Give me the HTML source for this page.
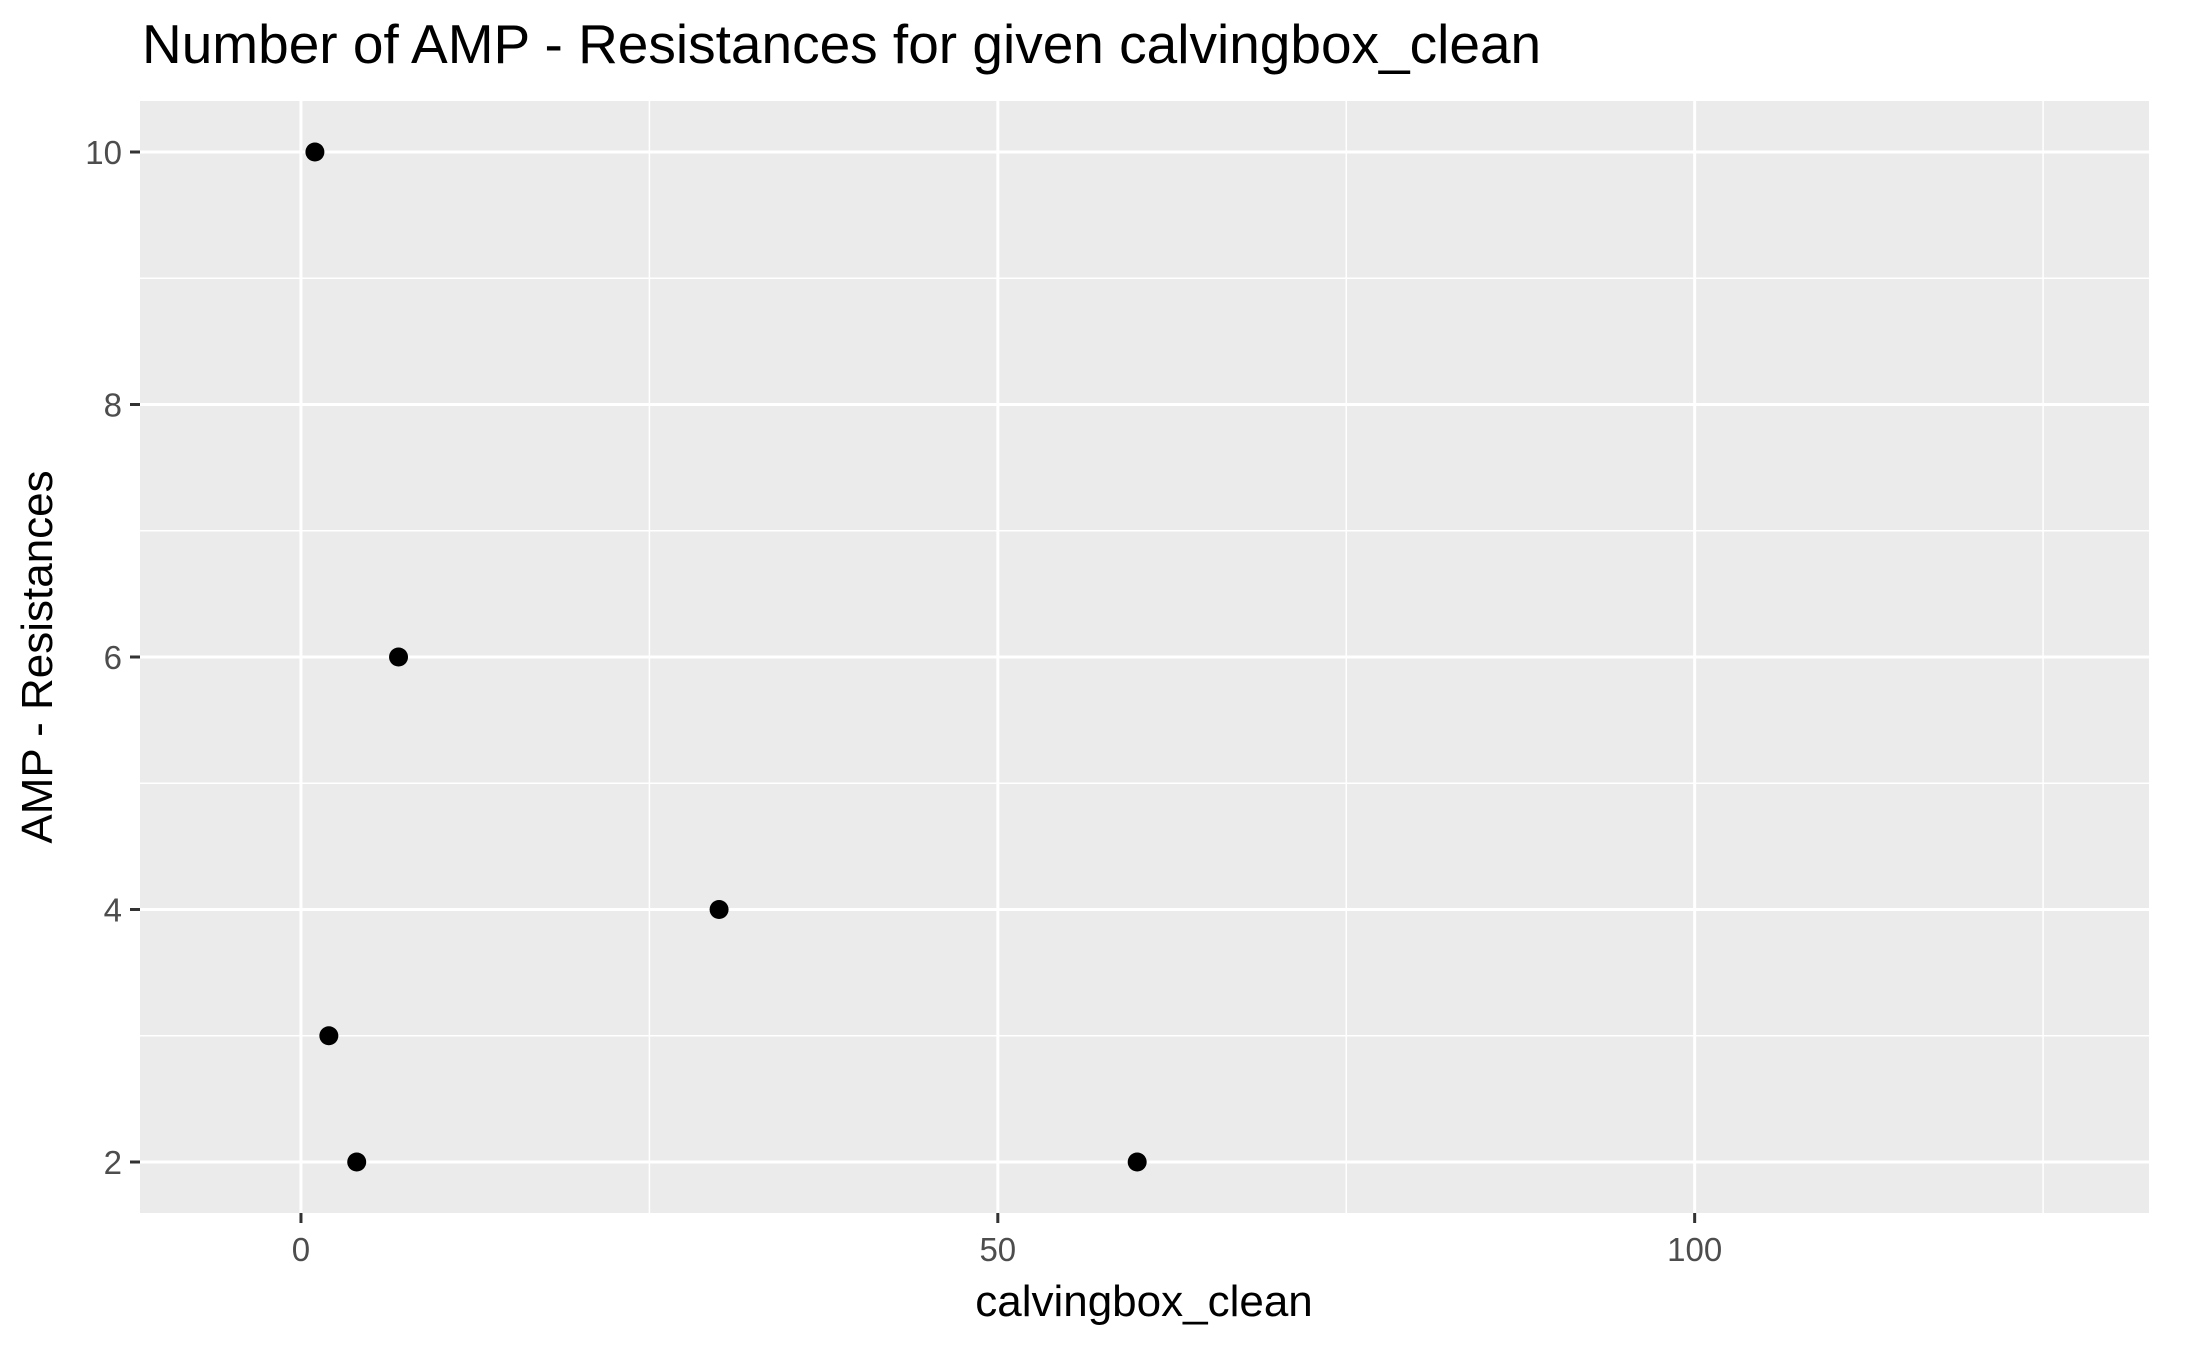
<!DOCTYPE html>
<html><head><meta charset="utf-8"><style>
html,body{margin:0;padding:0;background:#fff;}
svg{display:block;font-family:"Liberation Sans",sans-serif;}
</style></head><body>
<svg id="chart" width="2187" height="1350" viewBox="0 0 2187 1350">
<text x="142" y="63" font-size="55" fill="#000">Number of AMP - Resistances for given calvingbox_clean</text>
<rect x="140" y="101" width="2009" height="1112" fill="#ebebeb"/>
<g id="grid"></g>
<g id="axes"></g>
<g id="points"></g>
<text x="1144" y="1316" font-size="44" text-anchor="middle" fill="#000">calvingbox_clean</text>
<text transform="translate(52,657) rotate(-90)" font-size="44" text-anchor="middle" fill="#000">AMP - Resistances</text>
</svg>
<script>
const xValues = [1, 7, 30, 2, 4, 60];
const yValues = [10, 6, 4, 3, 2, 2];
const xTicks = [0, 50, 100];
const xMinor = [25, 75, 125];
const yTicks = [2, 4, 6, 8, 10];
const yMinor = [3, 5, 7, 9];
const L=140,R=2149,T=101,B=1213;
const xMin=-11.55,xMax=132.6,yMin=1.596,yMax=10.404;
const sx=v=>L+(v-xMin)/(xMax-xMin)*(R-L);
const sy=v=>B-(v-yMin)/(yMax-yMin)*(B-T);
const NS="http://www.w3.org/2000/svg";
const grid=document.getElementById('grid'),axes=document.getElementById('axes'),pts=document.getElementById('points');
function mk(tag,attrs,parent){const e=document.createElementNS(NS,tag);for(const k in attrs)e.setAttribute(k,attrs[k]);parent.appendChild(e);return e;}
xMinor.forEach(v=>{const e=mk('line',{x1:sx(v),x2:sx(v),y1:T,y2:B,stroke:'#fff','stroke-width':1.5},grid);

});
yMinor.forEach(v=>{const e=mk('line',{x1:L,x2:R,y1:sy(v),y2:sy(v),stroke:'#fff','stroke-width':1.5},grid);

});
xTicks.forEach(v=>{const e=mk('line',{x1:sx(v),x2:sx(v),y1:T,y2:B,stroke:'#fff','stroke-width':3},grid);


const t=mk('line',{x1:sx(v),x2:sx(v),y1:B,y2:B+10,stroke:'#333','stroke-width':3},axes);


const l=mk('text',{x:sx(v),y:B+48,'font-size':33,'text-anchor':'middle',fill:'#4d4d4d'},axes);l.textContent=v;

});
yTicks.forEach(v=>{const e=mk('line',{x1:L,x2:R,y1:sy(v),y2:sy(v),stroke:'#fff','stroke-width':3},grid);


const t=mk('line',{x1:L-10,x2:L,y1:sy(v),y2:sy(v),stroke:'#333','stroke-width':3},axes);


const l=mk('text',{x:L-18,y:sy(v)+12,'font-size':33,'text-anchor':'end',fill:'#4d4d4d'},axes);l.textContent=v;

});
xValues.forEach((x,i)=>{const c=mk('circle',{cx:sx(x),cy:sy(yValues[i]),r:9.5,fill:'#000'},pts);

});
</script>
</body></html>
